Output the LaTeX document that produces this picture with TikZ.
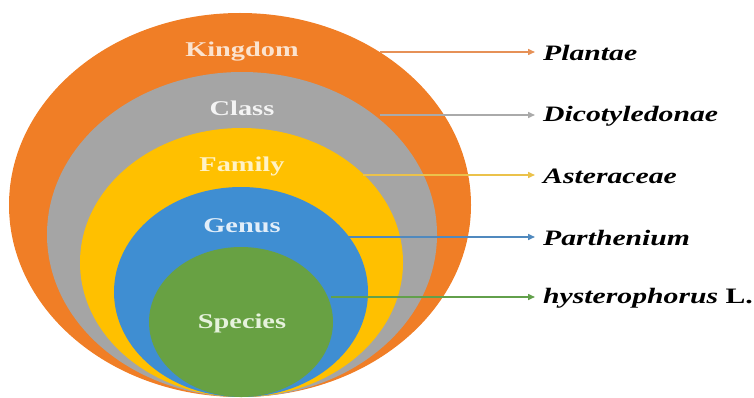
\documentclass[tikz,border=0pt]{standalone}
\usepackage{fontspec}
\usepackage{graphicx}
\setmainfont{Liberation Serif}
\usetikzlibrary{arrows.meta}

\definecolor{kingdomC}{HTML}{F07E26}
\definecolor{classC}{HTML}{A5A5A5}
\definecolor{familyC}{HTML}{FFC000}
\definecolor{genusC}{HTML}{3F8ED2}
\definecolor{speciesC}{HTML}{68A143}

\definecolor{kingdomT}{HTML}{FBE3CF}
\definecolor{classT}{HTML}{F4F4F4}
\definecolor{familyT}{HTML}{FFF2C6}
\definecolor{genusT}{HTML}{E2EEF9}
\definecolor{speciesT}{HTML}{E6F2DC}

\definecolor{kingdomA}{HTML}{E69157}
\definecolor{classA}{HTML}{AAAAAA}
\definecolor{familyA}{HTML}{EBC24B}
\definecolor{genusA}{HTML}{5089BE}
\definecolor{speciesA}{HTML}{62A04B}

\newcommand{\ranktext}[1]{{\fontsize{21}{24}\selectfont\bfseries\scalebox{1.35}[1]{#1}}}
\newcommand{\taxontext}[1]{{\fontsize{22}{25}\selectfont\bfseries\scalebox{1.35}[1]{#1}}}

\begin{document}
\begin{tikzpicture}[x=1pt,y=-1pt,
  rank/.style={inner sep=0pt},
  taxon/.style={anchor=west,inner sep=0pt,text=black},
  link/.style={line width=1.5pt,-{Triangle[length=7pt,width=6pt]}}]
\useasboundingbox (0,0) rectangle (754,398);

% nested ellipses, all resting on the same bottom point
\fill[kingdomC] (240,205) ellipse [x radius=231, y radius=192];
\fill[classC]   (242,234.5) ellipse [x radius=195, y radius=162.5];
\fill[familyC]  (241.5,262.5) ellipse [x radius=161.5, y radius=134.5];
\fill[genusC]   (241,292) ellipse [x radius=127, y radius=105];
\fill[speciesC] (241,322) ellipse [x radius=92, y radius=75];

% rank names
\node[rank,text=kingdomT] (kingdom) at (242,52)  {\ranktext{Kingdom}};
\node[rank,text=classT]   (class)   at (242,108) {\ranktext{Class}};
\node[rank,text=familyT]  (family)  at (242,166) {\ranktext{Family}};
\node[rank,text=genusT]   (genus)   at (242,226) {\ranktext{Genus}};
\node[rank,text=speciesT] (species) at (242,323) {\ranktext{Species}};

% start points of the connectors
\coordinate (kS) at (380,52);
\coordinate (cS) at (380,115);
\coordinate (fS) at (363,175);
\coordinate (gS) at (348,237);
\coordinate (sS) at (331,297);

% taxon names
\node[taxon] (plantae) at (543,53)  {\taxontext{\itshape Plantae}};
\node[taxon] (dicot)   at (543,116) {\taxontext{\itshape Dicotyledonae}};
\node[taxon] (aster)   at (543,176) {\taxontext{\itshape Asteraceae}};
\node[taxon] (parth)   at (543,238) {\taxontext{\itshape Parthenium}};
\node[taxon] (hyster)  at (543,298) {\taxontext{\textit{hysterophorus} L.}};

% connectors
\draw[link,kingdomA] (kS) -- ([xshift=-8pt]kS -| plantae.west);
\draw[link,classA]   (cS) -- ([xshift=-8pt]cS -| dicot.west);
\draw[link,familyA]  (fS) -- ([xshift=-8pt]fS -| aster.west);
\draw[link,genusA]   (gS) -- ([xshift=-8pt]gS -| parth.west);
\draw[link,speciesA] (sS) -- ([xshift=-8pt]sS -| hyster.west);
\end{tikzpicture}
\end{document}
